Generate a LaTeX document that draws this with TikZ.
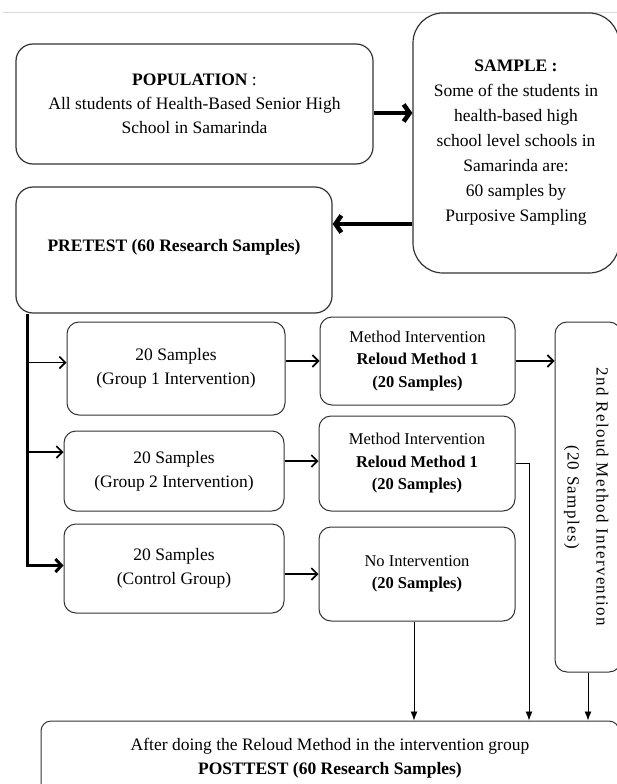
\documentclass[tikz,border=0pt]{standalone}
\usepackage{fontspec}
\setmainfont{Liberation Serif}
\usetikzlibrary{arrows.meta}

\begin{document}
\begin{tikzpicture}[x=1pt, y=-1pt,
    box/.style={draw=black!80, line width=1pt, rounded corners=12pt, align=center,
	inner sep=0pt, font=\fontsize{17.5}{24}\selectfont},
    bigbox/.style={box, rounded corners=17pt, line width=1.2pt},
    methbox/.style={box, font=\fontsize{16.5}{22.5}\selectfont},
    thickarr/.style={line width=4.5pt, -{Straight Barb[length=6pt,width=17pt]}},
    thinarr/.style={line width=1.6pt, -{Straight Barb[length=6pt,width=12pt]}},
    downarr/.style={line width=0.9pt, -{Latex[length=9pt,width=7pt]}}]
    \useasboundingbox (0,0) rectangle (617,784);
    \draw[black!15, line width=1pt] (3,12.5) -- (617,12.5);

    % top row
    \node[bigbox, minimum width=357pt, minimum height=120pt] (pop) at (194.5,104)
	{\textbf{POPULATION} :\\ All students of Health-Based Senior High\\ School in Samarinda};
    \node[bigbox, rounded corners=30pt, minimum width=206pt, minimum height=260pt,
	font=\fontsize{17.5}{25}\selectfont] (samp) at (516,143)
	{\textbf{SAMPLE :}\\ Some of the students in\\ health-based high\\ school level schools in\\
	 Samarinda are:\\ 60 samples by\\ Purposive Sampling};
    \node[bigbox, minimum width=316pt, minimum height=126pt] (pre) at (174,250)
	{\raisebox{10pt}{\textbf{PRETEST (60 Research Samples)}}};

    % groups
    \node[box, minimum width=218pt, minimum height=93pt] (g1) at (176,368.5)
	{20 Samples\\ (Group 1 Intervention)};
    \node[box, minimum width=220pt, minimum height=80pt] (g2) at (174,471)
	{20 Samples\\ (Group 2 Intervention)};
    \node[box, minimum width=220pt, minimum height=89pt] (g3) at (174,568.5)
	{20 Samples\\ (Control Group)};

    % interventions
    \node[methbox, minimum width=195pt, minimum height=88pt] (m1) at (417.5,361)
	{Method Intervention\\ \textbf{Reloud Method 1}\\ \textbf{(20 Samples)}};
    \node[methbox, minimum width=196pt, minimum height=95pt] (m2) at (417,463.5)
	{Method Intervention\\ \textbf{Reloud Method 1}\\ \textbf{(20 Samples)}};
    \node[methbox, minimum width=196pt, minimum height=94pt] (m3) at (417,574)
	{No Intervention\\ \textbf{(20 Samples)}};
    \node[box, minimum width=66pt, minimum height=350pt,
	font=\fontsize{17}{29}\selectfont\addfontfeature{LetterSpace=8}] (r2) at (588,497)
	{\rotatebox{-90}{\begin{tabular}{@{}c@{}}2nd Reloud Method Intervention\\ (20 Samples)\end{tabular}}};

    \node[box, rounded corners=10pt, minimum width=578pt, minimum height=75pt] (post) at (330,758.5)
	{After doing the Reloud Method in the intervention group\\ \textbf{POSTTEST (60 Research Samples)}};

    % connectors
    \coordinate (popout) at ([yshift=-9pt]pop.east);
    \draw[thickarr] (popout) -- (popout -| samp.west);
    \coordinate (sampout) at (samp.west |- 0,224);
    \draw[thickarr] (sampout) -- (sampout -| pre.east);

    \coordinate (trunk) at (pre.south -| 27,0);
    \draw[line width=3pt, -{Straight Barb[length=6pt,width=13pt]}] (trunk) |- ([yshift=3pt]g3.west);
    \coordinate (g1in) at ([yshift=6pt]g1.west);
    \draw[thinarr] (g1in -| trunk) -- (g1in);
    \coordinate (g2in) at ([yshift=19pt]g2.west);
    \draw[thinarr] (g2in -| trunk) -- (g2in);

    \draw[thinarr] (m1.west -| g1.east) -- (m1.west);
    \coordinate (g2out) at ([yshift=10pt]g2.east);
    \draw[thinarr] (g2out) -- (g2out -| m2.west);
    \draw[thinarr] (m3.west -| g3.east) -- (m3.west);
    \draw[thinarr] (m1.east) -- (m1.east -| r2.west);

    \draw[downarr] (m2.east) -| (post.north -| 529,0);
    \draw[downarr] ([xshift=-3pt]m3.south) -- ([xshift=-3pt]m3.south |- post.north);
    \draw[downarr] (r2.south) -- (r2.south |- post.north);
\end{tikzpicture}
\end{document}
